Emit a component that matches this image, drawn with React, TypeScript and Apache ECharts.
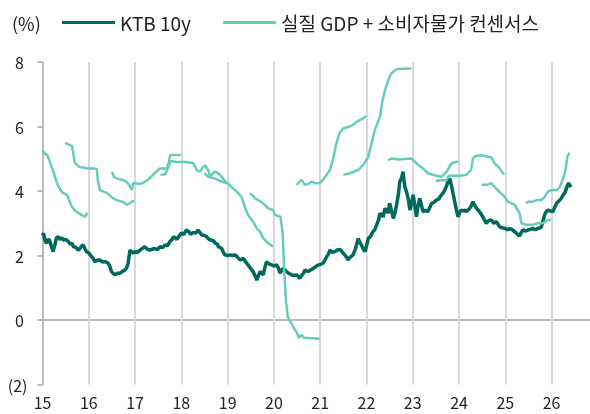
import React, { useEffect, useRef } from 'react';
import * as echarts from 'echarts';

const DARK = '#00695C';
const LIGHT = '#66CDBB';
const FONT = "'Noto Sans CJK KR', 'Noto Sans', sans-serif";

const legendNames = ['KTB 10y', '실질 GDP + 소비자물가 컨센서스'];
const yearTicks = [15, 16, 17, 18, 19, 20, 21, 22, 23, 24, 25, 26];

// KTB 10y yield, [year (yy.frac), %]
const ktb10y: [number, number][] = [
  [15.0, 2.62], [15.02, 2.69], [15.06, 2.45], [15.09, 2.38], [15.12, 2.5], [15.15, 2.48], [15.19, 2.3], [15.23, 2.12],
  [15.27, 2.35], [15.3, 2.55], [15.34, 2.58], [15.38, 2.5], [15.42, 2.55], [15.45, 2.48], [15.5, 2.5], [15.56, 2.43],
  [15.6, 2.35], [15.64, 2.38], [15.67, 2.27], [15.72, 2.25], [15.77, 2.17], [15.8, 2.2], [15.85, 2.3], [15.88, 2.33],
  [15.92, 2.2], [15.95, 2.12], [16.0, 2.08], [16.06, 1.96], [16.1, 1.9], [16.13, 1.81], [16.18, 1.85], [16.24, 1.86],
  [16.3, 1.8], [16.35, 1.81], [16.42, 1.76], [16.46, 1.65], [16.49, 1.5], [16.53, 1.44], [16.57, 1.4], [16.62, 1.45],
  [16.67, 1.45], [16.72, 1.5], [16.78, 1.55], [16.82, 1.62], [16.85, 1.76], [16.89, 2.17], [16.92, 2.12], [16.96, 2.07],
  [17.0, 2.12], [17.05, 2.1], [17.11, 2.17], [17.16, 2.22], [17.21, 2.27], [17.26, 2.2], [17.32, 2.17], [17.38, 2.2],
  [17.43, 2.22], [17.48, 2.18], [17.54, 2.27], [17.6, 2.25], [17.65, 2.33], [17.7, 2.3], [17.75, 2.43], [17.8, 2.5],
  [17.83, 2.58], [17.87, 2.55], [17.9, 2.5], [17.95, 2.6], [18.0, 2.7], [18.05, 2.65], [18.11, 2.79], [18.16, 2.74],
  [18.2, 2.66], [18.26, 2.71], [18.32, 2.7], [18.36, 2.79], [18.4, 2.72], [18.44, 2.64], [18.5, 2.62], [18.55, 2.58],
  [18.6, 2.5], [18.64, 2.48], [18.7, 2.45], [18.73, 2.38], [18.78, 2.35], [18.8, 2.27], [18.84, 2.25], [18.87, 2.22],
  [18.91, 2.1], [18.94, 2.02], [19.0, 2.0], [19.05, 2.02], [19.1, 2.0], [19.16, 2.02], [19.21, 1.95], [19.27, 1.86],
  [19.3, 1.88], [19.34, 1.91], [19.39, 1.8], [19.44, 1.71], [19.5, 1.6], [19.55, 1.5], [19.6, 1.35], [19.63, 1.24],
  [19.66, 1.35], [19.7, 1.5], [19.74, 1.45], [19.77, 1.4], [19.8, 1.6], [19.84, 1.81], [19.88, 1.75], [19.92, 1.72],
  [19.95, 1.71], [20.0, 1.68], [20.06, 1.71], [20.1, 1.6], [20.13, 1.45], [20.17, 1.55], [20.2, 1.6], [20.24, 1.55],
  [20.27, 1.5], [20.32, 1.45], [20.38, 1.4], [20.44, 1.38], [20.49, 1.4], [20.53, 1.35], [20.56, 1.29], [20.6, 1.38],
  [20.64, 1.45], [20.67, 1.55], [20.71, 1.52], [20.74, 1.5], [20.79, 1.55], [20.85, 1.6], [20.9, 1.65], [20.96, 1.71],
  [21.0, 1.72], [21.06, 1.76], [21.1, 1.85], [21.14, 1.96], [21.18, 2.05], [21.21, 2.17], [21.26, 2.1], [21.32, 2.12],
  [21.38, 2.18], [21.43, 2.19], [21.48, 2.1], [21.53, 2.02], [21.57, 1.95], [21.6, 1.86], [21.65, 1.95], [21.71, 2.02],
  [21.76, 2.2], [21.8, 2.4], [21.82, 2.53], [21.86, 2.4], [21.89, 2.33], [21.93, 2.2], [21.97, 2.12], [22.0, 2.3],
  [22.04, 2.53], [22.09, 2.6], [22.14, 2.74], [22.18, 2.8], [22.22, 2.95], [22.26, 3.1], [22.29, 3.31], [22.33, 3.25],
  [22.36, 3.2], [22.4, 3.46], [22.44, 3.4], [22.47, 3.31], [22.5, 3.62], [22.54, 3.4], [22.58, 3.15], [22.62, 3.35],
  [22.65, 3.57], [22.69, 3.9], [22.72, 4.29], [22.76, 4.4], [22.79, 4.6], [22.81, 4.35], [22.83, 4.13], [22.87, 3.95],
  [22.9, 3.77], [22.94, 3.41], [22.97, 3.6], [23.01, 3.88], [23.04, 3.6], [23.08, 3.2], [23.11, 3.5], [23.15, 3.77],
  [23.19, 3.55], [23.22, 3.36], [23.27, 3.4], [23.33, 3.36], [23.37, 3.5], [23.41, 3.62], [23.46, 3.65], [23.51, 3.72],
  [23.56, 3.75], [23.62, 3.88], [23.66, 3.95], [23.69, 4.03], [23.73, 4.15], [23.76, 4.29], [23.8, 4.39], [23.84, 4.15],
  [23.87, 3.93], [23.91, 3.65], [23.95, 3.36], [23.98, 3.2], [24.02, 3.36], [24.05, 3.41], [24.1, 3.38], [24.13, 3.41],
  [24.16, 3.36], [24.2, 3.42], [24.23, 3.46], [24.27, 3.55], [24.3, 3.67], [24.34, 3.55], [24.38, 3.46], [24.43, 3.38],
  [24.49, 3.26], [24.54, 3.12], [24.59, 3.0], [24.64, 3.08], [24.7, 3.1], [24.75, 3.0], [24.81, 3.05], [24.85, 2.95],
  [24.88, 2.89], [24.93, 2.86], [24.99, 2.84], [25.05, 2.8], [25.1, 2.84], [25.15, 2.8], [25.2, 2.74], [25.25, 2.68],
  [25.3, 2.6], [25.34, 2.7], [25.38, 2.79], [25.44, 2.76], [25.49, 2.79], [25.55, 2.82], [25.6, 2.84], [25.65, 2.8],
  [25.71, 2.84], [25.75, 2.86], [25.78, 2.89], [25.82, 3.1], [25.85, 3.26], [25.88, 3.35], [25.92, 3.41], [25.97, 3.38],
  [26.03, 3.36], [26.07, 3.5], [26.11, 3.62], [26.15, 3.68], [26.18, 3.72], [26.22, 3.8], [26.25, 3.88], [26.29, 3.95],
  [26.32, 4.08], [26.36, 4.24], [26.39, 4.19], [26.42, 4.12],
];

// Real GDP + CPI consensus, one segment per target year
const cons2015: [number, number][] = [
  [15.0, 5.27], [15.05, 5.15], [15.1, 5.12], [15.15, 4.95], [15.2, 4.74], [15.26, 4.5], [15.31, 4.25], [15.38, 4.05],
  [15.44, 3.94], [15.53, 3.88], [15.58, 3.7], [15.64, 3.5], [15.7, 3.4], [15.77, 3.32], [15.85, 3.25], [15.92, 3.2], [15.97, 3.32],
];
const cons2016: [number, number][] = [
  [15.49, 5.49], [15.55, 5.45], [15.64, 5.4], [15.67, 5.1], [15.7, 4.87], [15.8, 4.74], [15.9, 4.72], [15.98, 4.7],
  [16.1, 4.7], [16.17, 4.68], [16.2, 4.3], [16.24, 4.03], [16.32, 3.98], [16.39, 3.94], [16.46, 3.85], [16.52, 3.78],
  [16.6, 3.72], [16.68, 3.68], [16.74, 3.66], [16.82, 3.57], [16.88, 3.62], [16.95, 3.69], [16.99, 3.69],
];
const cons2017: [number, number][] = [
  [16.5, 4.59], [16.54, 4.45], [16.58, 4.4], [16.73, 4.34], [16.8, 4.3], [16.84, 4.25], [16.9, 4.12], [16.93, 4.03],
  [16.96, 4.25], [17.1, 4.22], [17.17, 4.25], [17.28, 4.35], [17.39, 4.5], [17.46, 4.6], [17.54, 4.7], [17.69, 4.7],
  [17.73, 4.9], [17.76, 5.12], [17.99, 5.12],
];
const cons2018: [number, number][] = [
  [17.55, 4.5], [17.65, 4.52], [17.72, 4.74], [17.76, 4.93], [17.9, 4.9], [18.1, 4.9], [18.26, 4.86], [18.33, 4.65],
  [18.4, 4.6], [18.46, 4.72], [18.51, 4.8], [18.58, 4.65], [18.62, 4.44], [18.68, 4.55], [18.73, 4.6], [18.8, 4.55],
  [18.9, 4.39], [18.98, 4.24],
];
const cons2019: [number, number][] = [
  [18.5, 4.55], [18.58, 4.44], [18.7, 4.4], [18.87, 4.29], [19.0, 4.24], [19.12, 4.08], [19.23, 3.93], [19.3, 3.82],
  [19.37, 3.51], [19.44, 3.26], [19.55, 3.05], [19.63, 2.84], [19.7, 2.74], [19.77, 2.53], [19.88, 2.38], [19.98, 2.27],
];
const cons2020: [number, number][] = [
  [19.48, 3.93], [19.55, 3.85], [19.59, 3.77], [19.66, 3.72], [19.77, 3.62], [19.88, 3.46], [19.98, 3.41], [20.02, 3.26],
  [20.14, 3.2], [20.19, 2.7], [20.22, 1.6], [20.26, 0.6], [20.3, 0.1], [20.33, 0.0], [20.38, -0.1], [20.43, -0.25],
  [20.5, -0.4], [20.54, -0.55], [20.6, -0.46], [20.65, -0.55], [20.75, -0.56], [20.99, -0.58],
];
const cons2021: [number, number][] = [
  [20.49, 4.19], [20.56, 4.29], [20.6, 4.34], [20.67, 4.19], [20.75, 4.22], [20.81, 4.29], [20.9, 4.24], [20.99, 4.24],
  [21.06, 4.35], [21.14, 4.5], [21.21, 4.65], [21.28, 5.0], [21.35, 5.48], [21.42, 5.8], [21.5, 5.94], [21.64, 6.0],
  [21.71, 6.05], [21.79, 6.15], [21.93, 6.25], [21.99, 6.33],
];
const cons2022: [number, number][] = [
  [21.5, 4.5], [21.64, 4.55], [21.82, 4.65], [21.93, 4.81], [22.04, 5.06], [22.11, 5.48], [22.18, 5.89], [22.29, 6.3],
  [22.35, 6.82], [22.4, 7.13], [22.47, 7.44], [22.54, 7.65], [22.65, 7.78], [22.97, 7.8],
];
const cons2023: [number, number][] = [
  [22.47, 4.96], [22.54, 5.01], [22.7, 4.98], [22.97, 5.01], [23.08, 4.86], [23.22, 4.7], [23.33, 4.55], [23.51, 4.47],
  [23.62, 4.44], [23.73, 4.6], [23.84, 4.86], [23.95, 4.91], [23.99, 4.91],
];
const cons2024: [number, number][] = [
  [23.5, 4.32], [23.73, 4.34], [23.78, 4.47], [24.02, 4.47], [24.16, 4.5], [24.26, 4.65], [24.3, 5.0], [24.34, 5.08],
  [24.48, 5.11], [24.7, 5.04], [24.77, 4.86], [24.88, 4.7], [24.97, 4.5],
];
const cons2025: [number, number][] = [
  [24.49, 4.19], [24.6, 4.19], [24.7, 4.24], [24.77, 4.13], [24.85, 4.0], [24.95, 3.88], [25.06, 3.67], [25.2, 3.57],
  [25.31, 3.31], [25.35, 3.0], [25.45, 2.95], [25.6, 2.95], [25.7, 3.0], [25.81, 3.0], [25.92, 3.1], [25.98, 3.1],
];
const cons2026: [number, number][] = [
  [25.44, 3.62], [25.5, 3.67], [25.6, 3.67], [25.68, 3.72], [25.78, 3.72], [25.85, 3.82], [25.92, 3.98], [26.0, 4.03],
  [26.11, 4.03], [26.18, 4.13], [26.25, 4.39], [26.3, 4.65], [26.34, 5.06], [26.39, 5.19],
];

const consensusSegments = [
  cons2015, cons2016, cons2017, cons2018, cons2019, cons2020, cons2021, cons2022, cons2023, cons2024, cons2025, cons2026,
];

export default function App() {
  const ref = useRef<HTMLDivElement>(null);
  useEffect(() => {
    if (!ref.current) return;
    const chart = echarts.init(ref.current, null, { renderer: 'svg' });
    const series: any[] = [
      {
        name: legendNames[0],
        type: 'line',
        data: ktb10y,
        showSymbol: false,
        symbol: 'none',
        lineStyle: { color: DARK, width: 3.5 },
        itemStyle: { color: DARK },
        z: 2,
      },
      ...consensusSegments.map((seg) => ({
        name: legendNames[1],
        type: 'line',
        data: seg,
        showSymbol: false,
        symbol: 'none',
        lineStyle: { color: LIGHT, width: 2.5 },
        itemStyle: { color: LIGHT },
        z: 3,
      })),
    ];
    chart.setOption({
      animation: false,
      textStyle: { fontFamily: FONT },
      title: {
        text: '(%)',
        left: 7,
        top: 9,
        textStyle: { fontSize: 18, fontWeight: 'normal', color: '#222', fontFamily: FONT },
      },
      legend: {
        data: legendNames,
        left: 57,
        top: 8,
        icon: 'rect',
        itemWidth: 53,
        itemHeight: 3,
        itemGap: 32,
        textStyle: { fontSize: 19, color: '#222', fontFamily: FONT },
      },
      grid: { left: 42.5, right: 0, top: 62, bottom: 29.5 },
      xAxis: {
        type: 'value',
        min: yearTicks[0],
        max: 26.83,
        interval: 1,
        axisLine: { show: false },
        axisTick: { show: false },
        splitLine: { show: true, showMinLine: false, showMaxLine: false, lineStyle: { color: '#d9d9d9', width: 2 } },
        axisLabel: {
          fontSize: 16,
          color: '#222',
          margin: 9,
          showMaxLabel: false,
          formatter: (v: number) => (yearTicks.includes(Math.round(v * 100) / 100) ? String(v) : ''),
        },
      },
      yAxis: {
        type: 'value',
        min: -2,
        max: 8,
        interval: 2,
        axisLine: { show: true, lineStyle: { color: '#a6a6a6', width: 1.5 } },
        axisTick: { show: true, length: 5, lineStyle: { color: '#a6a6a6', width: 1.5 } },
        splitLine: {
          show: true,
          lineStyle: {
            color: ['rgba(0,0,0,0)', '#a6a6a6', 'rgba(0,0,0,0)', 'rgba(0,0,0,0)', 'rgba(0,0,0,0)', 'rgba(0,0,0,0)'],
            width: 1.5,
          },
        },
        axisLabel: {
          fontSize: 16,
          color: '#222',
          margin: 15,
          formatter: (v: number) => (v < 0 ? `(${-v})` : `${v} `),
        },
      },
      series,
    });
    return () => chart.dispose();
  }, []);
  return <div ref={ref} style={{ position: 'fixed', left: 0, top: 0, width: 590, height: 414 }} />;
}
